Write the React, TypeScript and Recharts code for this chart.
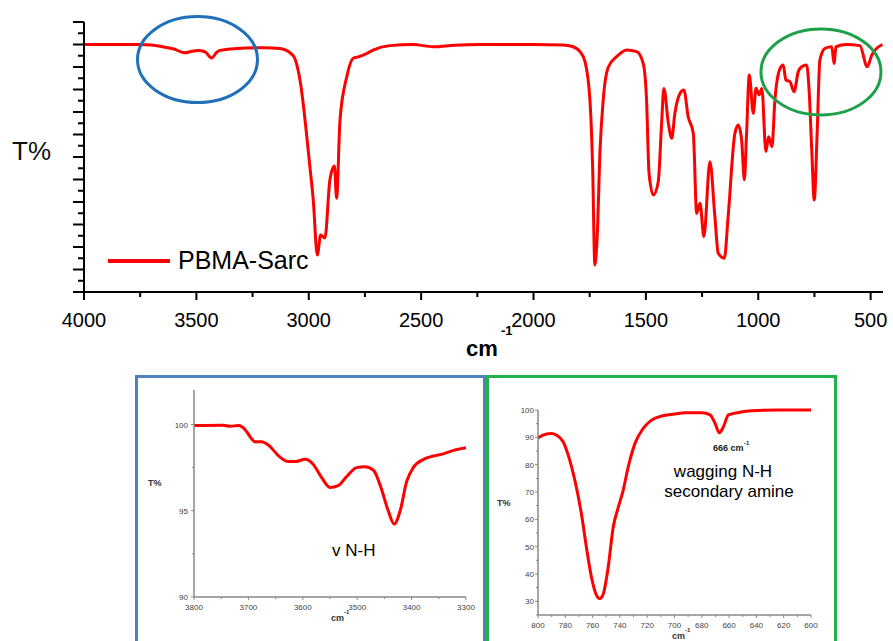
import React from "react";
import {
  LineChart,
  Line,
  XAxis,
  YAxis,
  Legend,
  ReferenceDot,
} from "recharts";

// main FTIR spectrum (wavenumber, cm-1 / transmittance, arbitrary units)
const mainWn = [
  4000, 3900, 3751, 3700, 3650, 3600, 3551, 3520, 3493, 3462, 3432, 3410, 3395,
  3321, 3200, 3128, 3069, 3039, 2995, 2980, 2962, 2947, 2928, 2906, 2886, 2876,
  2861, 2831, 2802, 2780, 2742, 2714, 2639, 2536, 2447, 2350, 2238, 2000, 1869,
  1830, 1793, 1771, 1749, 1737, 1727, 1716, 1704, 1690, 1667, 1630, 1586, 1541, 1512,
  1497, 1486, 1467, 1445, 1430, 1420, 1400, 1385, 1371, 1348, 1331, 1312, 1289,
  1274, 1259, 1242, 1215, 1193, 1178, 1151, 1134, 1104, 1089, 1074, 1062, 1052,
  1040, 1022, 1010, 996, 984, 966, 954, 939, 926, 903, 889, 877, 859, 841, 822,
  807, 785, 773, 762, 751, 738, 726, 703, 673, 663, 654, 607, 548, 515, 495,
  473, 447,
];
const mainT = [
  110, 110, 110, 109.8, 109, 108, 106.3, 107, 107.3, 106.8, 104, 106.5, 107.4,
  108.2, 108.6, 108.2, 105, 94.2, 55.7, 40.9, 16.4, 25.3, 24, 49.8, 56, 41.7,
  76.4, 95.6, 103.9, 104.5, 106, 107.5, 109.5, 110, 109, 109.7, 110, 110, 109.8,
  109.2, 106.8, 102.4, 85.3, 55.7, 12, 26.2, 63, 85.3, 100, 104.6, 107.6, 106.8, 101.6,
  85.3, 52.8, 43.1, 49, 75, 90.5, 75, 68.3, 79.4, 88.3, 89.8, 78, 70.5,
  35, 39.4, 24.6, 57.9, 33.5, 17.2, 15, 33.5, 70.5, 74.2, 67.5, 49.8, 70.5,
  96.4, 79.4, 90.5, 87.6, 90.5, 62.4, 69, 64.6, 85.3, 99.4, 100.9, 94.2, 93.5, 89, 97.9,
  100.1, 100.9, 88.3, 63, 40.9, 70.5, 103.1, 108.3, 109, 101.6, 109, 110, 109.5, 100.1, 105.3,
  108.3, 110,
];
const mainXTicks = [4000, 3750, 3500, 3250, 3000, 2750, 2500, 2250, 2000, 1750, 1500, 1250, 1000, 750, 500];
const mainYTicks = Array.from({ length: 25 }, (_, i) => i * 5);

// inset 1: N-H stretching region
const nhWn = [
  3800, 3746, 3734, 3718, 3706, 3697, 3688, 3676, 3663, 3645, 3627, 3614, 3596,
  3581, 3565, 3550, 3535, 3519, 3501, 3486, 3470, 3458, 3443, 3432, 3421, 3409,
  3397, 3378, 3360, 3342, 3323, 3300,
];
const nhT = [
  99.94, 99.96, 99.9, 99.94, 99.7, 99.3, 99.0, 99.0, 98.8, 98.2, 97.85, 97.85,
  97.98, 97.7, 96.9, 96.35, 96.45, 97.0, 97.5, 97.55, 97.35, 96.5, 95.0, 94.23,
  95.0, 96.7, 97.5, 97.98, 98.17, 98.3, 98.5, 98.65,
];
const nhXTicks = [3800, 3750, 3700, 3650, 3600, 3550, 3500, 3450, 3400, 3350, 3300];
const nhYTicks = [90, 92.5, 95, 97.5, 100];

// inset 2: N-H wagging region
const wagWn = [
  800, 795, 790, 786.5, 781.6, 776.7, 773, 768.2, 764.5, 760.8, 757.2, 754.7,
  752.3, 748.6, 744.9, 741.2, 737.6, 733.9, 729, 722.9, 716.8, 709.4, 699.6,
  692.3, 680, 673.9, 670.3, 667.1, 664.1, 660.5, 653.1, 643.4, 623.7, 600,
];
const wagT = [
  89.8, 91.05, 91.4, 90.8, 88.4, 81.6, 74.3, 62, 49.7, 38.7, 32.3, 31, 32.5,
  42.4, 57.1, 64.4, 70.6, 79.2, 87.7, 93.3, 96.3, 97.8, 98.5, 99, 99, 98.2,
  95.1, 91.7, 93.9, 98.2, 99.1, 99.75, 100, 100,
];
const wagXTicks = Array.from({ length: 21 }, (_, i) => 600 + i * 10);
const wagYTicks = Array.from({ length: 16 }, (_, i) => 25 + i * 5);

const mainData = mainWn.map((wn, i) => ({ wn, t: mainT[i] }));
const nhData = nhWn.map((wn, i) => ({ wn, t: nhT[i] }));
const wagData = wagWn.map((wn, i) => ({ wn, t: wagT[i] }));

const FONT = '"Liberation Sans", Arial, sans-serif';
const RED = "#ff0000";

const MainXTick = (props: any) => {
  const { x, y, payload } = props;
  const major = payload.value % 500 === 0;
  return (
    <g>
      <line x1={x} y1={y} x2={x} y2={y + (major ? 8 : 5)} stroke="#000" strokeWidth={2} />
      {major && (
        <text x={x} y={y + 35} textAnchor="middle" fontSize={20} fontFamily={FONT} fill="#000">
          {payload.value}
        </text>
      )}
    </g>
  );
};

const MainYTick = (props: any) => {
  const { x, y, payload } = props;
  const major = payload.value % 10 === 0;
  return <line x1={x - (major ? 11 : 6)} y1={y} x2={x} y2={y} stroke="#000" strokeWidth={2} />;
};

const makeInsetXTick = (labelStep: number, labelDy: number) => (props: any) => {
  const { x, y, payload } = props;
  const major = payload.value % labelStep === 0;
  return (
    <g>
      <line x1={x} y1={y} x2={x} y2={y + (major ? 3 : 2)} stroke="#888" strokeWidth={1} />
      {major && (
        <text x={x} y={y + labelDy} textAnchor="middle" fontSize={8} fontFamily={FONT} fill="#444">
          {payload.value}
        </text>
      )}
    </g>
  );
};

const makeInsetYTick = (labelStep: number, gap: number) => (props: any) => {
  const { x, y, payload } = props;
  const major = payload.value % labelStep === 0;
  return (
    <g>
      <line x1={x - (major ? 3 : 2)} y1={y} x2={x} y2={y} stroke="#888" strokeWidth={1} />
      {major && (
        <text x={x - gap} y={y + 3} textAnchor="end" fontSize={8} fontFamily={FONT} fill="#444">
          {payload.value}
        </text>
      )}
    </g>
  );
};

const renderLegend = (props: any) => {
  const item = props.payload && props.payload[0];
  return (
    <div style={{ display: "flex", alignItems: "center", fontFamily: FONT }}>
      <span style={{ display: "inline-block", width: 62, height: 4, background: RED }} />
      <span style={{ fontSize: 25, marginLeft: 8, color: "#000", whiteSpace: "nowrap" }}>
        {item ? item.value : "PBMA-Sarc"}
      </span>
    </div>
  );
};

const MainChart = () => (
  <LineChart width={893} height={360} data={mainData} margin={{ top: 22, right: 10, bottom: 28, left: 70 }}>
    <XAxis
      dataKey="wn"
      type="number"
      domain={[445, 4000]}
      reversed
      ticks={mainXTicks}
      interval={0}
      height={40}
      tickSize={0}
      tickMargin={0}
      tickLine={false}
      axisLine={{ stroke: "#000", strokeWidth: 2 }}
      tick={MainXTick}
    />
    <YAxis
      type="number"
      domain={[0, 120]}
      ticks={mainYTicks}
      interval={0}
      width={14}
      tickSize={0}
      tickMargin={0}
      tickLine={false}
      axisLine={{ stroke: "#000", strokeWidth: 2 }}
      tick={MainYTick}
    />
    <Legend
      layout="horizontal"
      verticalAlign="middle"
      align="center"
      content={renderLegend}
      wrapperStyle={{ left: 108, top: 246, width: "auto" }}
    />
    <Line
      type="monotone"
      dataKey="t"
      name="PBMA-Sarc"
      stroke={RED}
      strokeWidth={3}
      dot={false}
      isAnimationActive={false}
    />
    <ReferenceDot
      x={3495}
      y={103.3}
      r={0}
      ifOverflow="visible"
      shape={(p: any) => (
        <ellipse cx={p.cx} cy={p.cy} rx={60} ry={43} fill="none" stroke="#1f70b8" strokeWidth={3} />
      )}
    />
    <ReferenceDot
      x={721}
      y={97.8}
      r={0}
      ifOverflow="visible"
      shape={(p: any) => (
        <ellipse cx={p.cx} cy={p.cy} rx={60} ry={43} fill="none" stroke="#1ea04a" strokeWidth={3} />
      )}
    />
  </LineChart>
);

const NHInset = () => (
  <LineChart width={351} height={266} data={nhData} margin={{ top: 15, right: 20, bottom: 0, left: 0 }}>
    <XAxis
      dataKey="wn"
      type="number"
      domain={[3300, 3800]}
      reversed
      ticks={nhXTicks}
      interval={0}
      height={44}
      tickSize={0}
      tickMargin={0}
      tickLine={false}
      axisLine={{ stroke: "#888", strokeWidth: 1.5 }}
      tick={makeInsetXTick(100, 13)}
    />
    <YAxis
      type="number"
      domain={[90, 102]}
      ticks={nhYTicks}
      interval={0}
      width={59}
      tickSize={0}
      tickMargin={0}
      tickLine={false}
      axisLine={{ stroke: "#888", strokeWidth: 1.5 }}
      tick={makeInsetYTick(5, 6)}
    />
    <Line type="monotone" dataKey="t" stroke={RED} strokeWidth={3} dot={false} isAnimationActive={false} />
  </LineChart>
);

const WagInset = () => (
  <LineChart width={347} height={265} data={wagData} margin={{ top: 34, right: 24, bottom: 0, left: 0 }}>
    <XAxis
      dataKey="wn"
      type="number"
      domain={[600, 800]}
      reversed
      ticks={wagXTicks}
      interval={0}
      height={26}
      tickSize={0}
      tickMargin={0}
      tickLine={false}
      axisLine={{ stroke: "#888", strokeWidth: 1.5 }}
      tick={makeInsetXTick(20, 13)}
    />
    <YAxis
      type="number"
      domain={[25, 100]}
      ticks={wagYTicks}
      interval={0}
      width={50}
      tickSize={0}
      tickMargin={0}
      tickLine={false}
      axisLine={{ stroke: "#888", strokeWidth: 1.5 }}
      tick={makeInsetYTick(10, 4)}
    />
    <Line type="monotone" dataKey="t" stroke={RED} strokeWidth={3} dot={false} isAnimationActive={false} />
  </LineChart>
);

export default function App() {
  return (
    <div
      style={{
        position: "absolute",
        left: 0,
        top: 0,
        width: 893,
        height: 641,
        overflow: "hidden",
        background: "#fff",
        fontFamily: FONT,
      }}
    >
      <div style={{ position: "absolute", left: 0, top: 0 }}>
        <MainChart />
      </div>
      <div style={{ position: "absolute", left: 135, top: 375 }}>
        <NHInset />
      </div>
      <div style={{ position: "absolute", left: 488, top: 376 }}>
        <WagInset />
      </div>
      <svg
        width={893}
        height={641}
        style={{ position: "absolute", left: 0, top: 0, pointerEvents: "none" }}
        fontFamily={FONT}
      >
        {/* main axis titles */}
        <text x={12} y={160} fontSize={26} fill="#111">T%</text>
        <text x={466} y={356} fontSize={22} fontWeight="bold" fill="#000">cm</text>
        <text x={501} y={335} fontSize={13} fontWeight="bold" fill="#000">-1</text>

        {/* inset frames */}
        <rect x={136.5} y={376.5} width={348} height={272} fill="none" stroke="#4f81bd" strokeWidth={3} />
        <rect x={487.5} y={376.5} width={348} height={272} fill="none" stroke="#23b14d" strokeWidth={3} />

        {/* N-H stretching inset labels */}
        <text x={148} y={486} fontSize={9} fontWeight="bold" fill="#333">T%</text>
        <text x={331} y={621} fontSize={9} fontWeight="bold" fill="#333">cm</text>
        <text x={344} y={614} fontSize={6} fontWeight="bold" fill="#333">-1</text>
        <text x={332} y={556} fontSize={17} fill="#000">v N-H</text>

        {/* wagging inset labels */}
        <text x={497} y={506} fontSize={9} fontWeight="bold" fill="#333">T%</text>
        <text x={672} y={639} fontSize={9} fontWeight="bold" fill="#333">cm</text>
        <text x={685} y={632} fontSize={6} fontWeight="bold" fill="#333">-1</text>
        <text x={713} y={451} fontSize={9} fontWeight="bold" fill="#222">666 cm</text>
        <text x={744} y={445} fontSize={6} fontWeight="bold" fill="#222">-1</text>
        <text x={723} y={477} fontSize={17} textAnchor="middle" fill="#000">wagging N-H</text>
        <text x={729} y={497} fontSize={17} textAnchor="middle" fill="#000">secondary amine</text>
      </svg>
    </div>
  );
}
